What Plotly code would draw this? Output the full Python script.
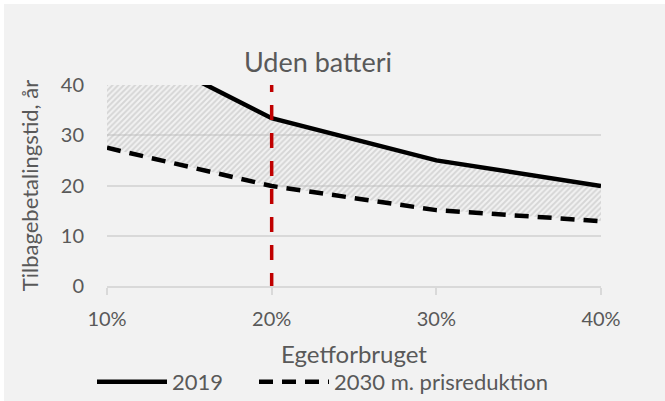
import plotly.graph_objects as go

# Data
egetforbrug = [0.10, 0.20, 0.30, 0.40]
serie_2019 = [50.0, 33.4, 25.0, 19.9]
serie_2030 = [27.5, 19.9, 15.1, 12.9]
marker_x = 0.20
y_ticks = [0, 10, 20, 30, 40]
x_ticks = [0.10, 0.20, 0.30, 0.40]

FONT = "Lato"
TXT = "#595959"
GRID = "#d9d9d9"

W, H = 665, 401
ML, MR, MT, MB = 107, 64, 85, 115

fig = go.Figure()

fig.add_trace(go.Scatter(
    x=egetforbrug, y=serie_2030, name="2030 m. prisreduktion",
    mode="lines", line=dict(color="black", width=4.5, dash="14px,9px"),
    legend="legend2",
))
# hatched band between the two series (no legend entry)
fig.add_trace(go.Scatter(
    x=egetforbrug, y=serie_2019, name="band",
    mode="lines", line=dict(color="rgba(0,0,0,0)", width=0),
    fill="tonexty", fillcolor="rgba(0,0,0,0)",
    fillpattern=dict(shape="/", fgcolor="#bababa", bgcolor="rgba(0,0,0,0)",
                     size=4, solidity=0.5),
    showlegend=False, hoverinfo="skip",
))
fig.add_trace(go.Scatter(
    x=egetforbrug, y=serie_2019, name="2019",
    mode="lines", line=dict(color="black", width=4.5),
    legend="legend",
))

fig.add_shape(type="line", xref="x", yref="y",
              x0=marker_x, x1=marker_x, y0=-0.4, y1=40,
              line=dict(color="#c00000", width=3.5, dash="15px,13px"),
              layer="above")

# background rectangle (white border at top/left)
pw = W - ML - MR
ph = H - MT - MB
fig.add_shape(type="rect", xref="paper", yref="paper",
              x0=(4 - ML) / pw, x1=(W - ML) / pw,
              y0=-MB / ph, y1=(H - 4 - MB) / ph,
              fillcolor="#f2f2f2", line=dict(width=0), layer="below")

leg_common = dict(orientation="h", xanchor="left",
                  y=-(382 - (H - MB)) / ph, yanchor="middle",
                  font=dict(size=22, color=TXT, family=FONT),
                  itemwidth=70, bgcolor="rgba(0,0,0,0)")

fig.update_layout(
    width=W, height=H,
    margin=dict(l=ML, r=MR, t=MT, b=MB, autoexpand=False),
    paper_bgcolor="white", plot_bgcolor="rgba(0,0,0,0)",
    font=dict(family=FONT, color=TXT, size=20),
    title=dict(text="Uden batteri", x=318 / W, xanchor="center",
               y=1 - 63 / H, yanchor="middle", xref="container", yref="container",
               font=dict(size=27, color=TXT, family=FONT),
               automargin=False),
    showlegend=True,
    legend=dict(x=(92 - ML) / pw, **leg_common),
    legend2=dict(x=(254 - ML) / pw, **leg_common),
    xaxis=dict(range=[0.10, 0.40], tickvals=x_ticks, tickformat=".0%",
               showgrid=False, showline=True, linecolor=GRID, linewidth=1.5,
               ticks="outside", ticklen=7, tickcolor=GRID, tickwidth=1.5,
               ticklabelstandoff=7, automargin=False,
               tickfont=dict(size=20),
               title=dict(text="Egetforbruget", standoff=17,
                          font=dict(size=24, color=TXT, family=FONT)),
               zeroline=False),
    yaxis=dict(range=[0, 40], tickvals=y_ticks, showgrid=True, gridcolor=GRID,
               gridwidth=1.5, showline=False, zeroline=False,
               ticks="", ticklabelstandoff=22, automargin=False,
               tickfont=dict(size=20),
               title=dict(text="Tilbagebetalingstid, år", standoff=16,
                          font=dict(size=22, color=TXT, family=FONT))),
)

fig.write_html("out.html", config={"displayModeBar": False},
               post_script="document.body.style.margin='0';document.body.style.padding='0';")
